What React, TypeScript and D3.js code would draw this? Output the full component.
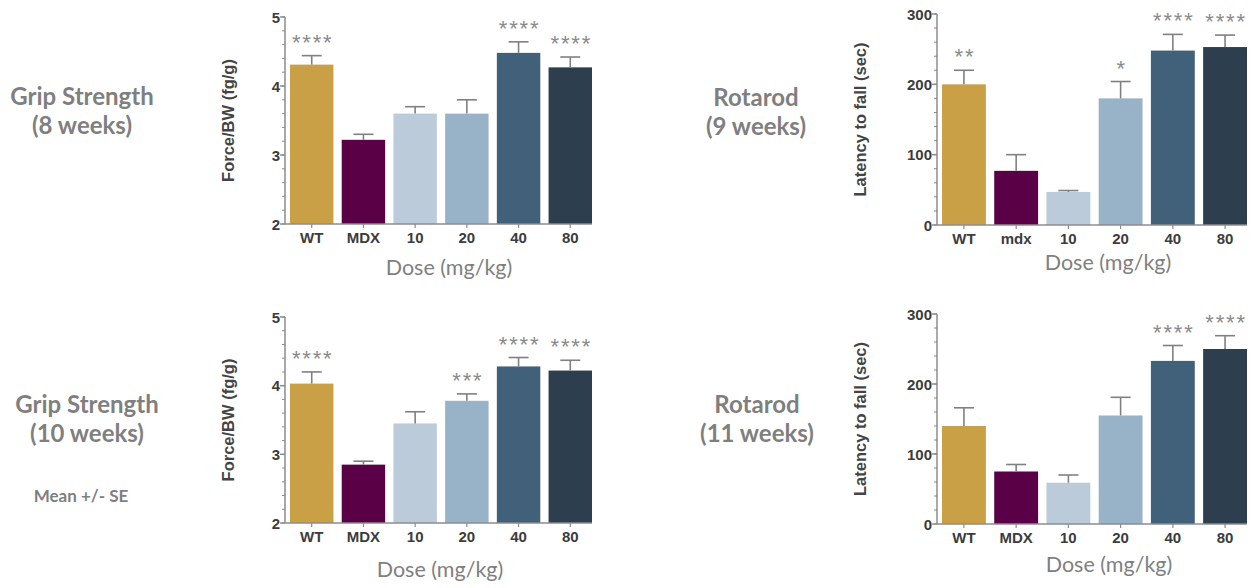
import React from 'react';
import * as d3 from 'd3';

// canvas size
const svgWidth = 1252;
const svgHeight = 588;

// bar colours, one per group
const barColors = ['#c9a046', '#5a0047', '#bccbd9', '#98b2c8', '#41607a', '#2d3e4f'];

const doseLabels = ['WT', 'MDX', '10', '20', '40', '80'];
const doseLabelsLower = ['WT', 'mdx', '10', '20', '40', '80'];

// Grip strength, 8 weeks
const grip8Mean = [4.31, 3.22, 3.6, 3.6, 4.48, 4.27];
const grip8Err = [0.13, 0.08, 0.1, 0.2, 0.16, 0.15];
const grip8Stars = ['****', '', '', '', '****', '****'];

// Rotarod, 9 weeks
const rota9Mean = [200, 77, 47, 180, 248, 253];
const rota9Err = [20, 23, 2, 24, 23, 17];
const rota9Stars = ['**', '', '', '*', '****', '****'];

// Grip strength, 10 weeks
const grip10Mean = [4.03, 2.85, 3.45, 3.78, 4.28, 4.22];
const grip10Err = [0.17, 0.05, 0.17, 0.1, 0.13, 0.15];
const grip10Stars = ['****', '', '', '***', '****', '****'];

// Rotarod, 11 weeks
const rota11Mean = [140, 75, 59, 155, 233, 250];
const rota11Err = [26, 10, 11, 26, 22, 19];
const rota11Stars = ['', '', '', '', '****', '****'];

const gripTicks = [2, 3, 4, 5];
const rotaTicks = [0, 100, 200, 300];

const axisColor = '#8c8c8c';
const tickTextColor = '#3c3c3c';
const sideTextColor = '#7f7f7f';

type PanelProps = {
  left: number;      // x of y-axis
  right: number;     // right end of x-axis
  top: number;       // y of top tick
  bottom: number;    // y of x-axis
  domain: [number, number];
  ticks: number[];
  minorStep: number;
  labels: string[];
  means: number[];
  errs: number[];
  stars: string[];
  yLabel: string;
  yLabelX: number;
  doseX: number;
  doseY: number;
};

function Panel(p: PanelProps) {
  const yScale = d3.scaleLinear().domain(p.domain).range([p.bottom, p.top]);
  const xScale = d3.scaleBand<string>()
    .domain(p.labels)
    .range([p.left + 5, p.right])
    .paddingInner(0.16)
    .paddingOuter(0);
  const bw = xScale.bandwidth();
  const minor = d3.range(p.domain[0], p.domain[1] + 1e-9, p.minorStep);

  return (
    <g>
      {/* bars */}
      {p.labels.map((lab, i) => (
        <rect key={'b' + i}
          x={xScale(lab)} y={yScale(p.means[i])}
          width={bw} height={p.bottom - yScale(p.means[i])}
          fill={barColors[i]} />
      ))}
      {/* error bars */}
      {p.labels.map((lab, i) => {
        const cx = (xScale(lab) as number) + bw / 2;
        const yTop = yScale(p.means[i] + p.errs[i]);
        return (
          <g key={'e' + i} stroke="#808080" strokeWidth={1.6}>
            <line x1={cx} x2={cx} y1={yScale(p.means[i])} y2={yTop} />
            <line x1={cx - 10} x2={cx + 10} y1={yTop} y2={yTop} />
          </g>
        );
      })}
      {/* significance stars */}
      {p.labels.map((lab, i) => (
        <text key={'s' + i}
          x={(xScale(lab) as number) + bw / 2 + 1}
          y={yScale(p.means[i] + p.errs[i]) - 6}
          textAnchor="middle" fontFamily="Liberation Sans, Arial" fontSize={22}
          letterSpacing={1.8} fill="#8a8a8a">{p.stars[i]}</text>
      ))}
      {/* y axis */}
      <line x1={p.left} x2={p.left} y1={p.top} y2={p.bottom} stroke={axisColor} strokeWidth={1.5} />
      {minor.map((v, i) => (
        <line key={'m' + i} x1={p.left - 3} x2={p.left} y1={yScale(v)} y2={yScale(v)}
          stroke={axisColor} strokeWidth={1} />
      ))}
      {p.ticks.map(t => (
        <g key={'t' + t}>
          <line x1={p.left - 5} x2={p.left} y1={yScale(t)} y2={yScale(t)} stroke={axisColor} strokeWidth={1.5} />
          <text x={p.left - 5} y={yScale(t) + 5.5} textAnchor="end"
            fontFamily="Liberation Sans, Arial" fontWeight="bold" fontSize={15}
            fill={tickTextColor}>{t}</text>
        </g>
      ))}
      {/* x axis */}
      <line x1={p.left} x2={p.right} y1={p.bottom} y2={p.bottom} stroke={axisColor} strokeWidth={1.5} />
      {p.labels.map((lab, i) => {
        const cx = (xScale(lab) as number) + bw / 2;
        return (
          <g key={'x' + i}>
            <line x1={cx} x2={cx} y1={p.bottom} y2={p.bottom + 4} stroke={axisColor} strokeWidth={1.2} />
            <text x={cx} y={p.bottom + 19} textAnchor="middle"
              fontFamily="Liberation Sans, Arial" fontWeight="bold" fontSize={15}
              fill={tickTextColor}>{lab}</text>
          </g>
        );
      })}
      <text transform={`translate(${p.yLabelX},${(p.top + p.bottom) / 2}) rotate(-90)`}
        textAnchor="middle" dominantBaseline="central"
        fontFamily="Liberation Sans, Arial" fontWeight="bold" fontSize={16.5}
        fill="#444">{p.yLabel}</text>
      <text x={p.doseX} y={p.doseY} textAnchor="middle" fontFamily="Lato" fontSize={21.5}
        fill={sideTextColor}>Dose (mg/kg)</text>
    </g>
  );
}

function SideLabel({ x, y, lines }: { x: number; y: number; lines: string[] }) {
  return (
    <text x={x} y={y} textAnchor="middle" fontFamily="Lato" fontWeight="bold" fontSize={24}
      fill={sideTextColor}>
      {lines.map((l, i) => (
        <tspan key={i} x={x} dy={i === 0 ? 0 : 29}>{l}</tspan>
      ))}
    </text>
  );
}

export default function App() {
  return (
    <svg width={svgWidth} height={svgHeight}
      style={{ position: 'absolute', left: 0, top: 0, background: '#fff' }}>
      <SideLabel x={82} y={105} lines={['Grip Strength', '(8 weeks)']} />
      <SideLabel x={756} y={106} lines={['Rotarod', '(9 weeks)']} />
      <SideLabel x={87} y={413} lines={['Grip Strength', '(10 weeks)']} />
      <SideLabel x={757} y={413} lines={['Rotarod', '(11 weeks)']} />
      <text x={81} y={502} textAnchor="middle" fontFamily="Lato" fontWeight="bold" fontSize={17}
        fill={sideTextColor}>Mean +/- SE</text>

      <Panel left={285} right={592} top={17} bottom={224} domain={[2, 5]} ticks={gripTicks}
        minorStep={0.2} labels={doseLabels} means={grip8Mean} errs={grip8Err} stars={grip8Stars}
        yLabel="Force/BW (fg/g)" yLabelX={228} doseX={449} doseY={275} />
      <Panel left={937} right={1247} top={14} bottom={225} domain={[0, 300]} ticks={rotaTicks}
        minorStep={20} labels={doseLabelsLower} means={rota9Mean} errs={rota9Err} stars={rota9Stars}
        yLabel="Latency to fall (sec)" yLabelX={860} doseX={1108} doseY={270} />
      <Panel left={285} right={592} top={317} bottom={523} domain={[2, 5]} ticks={gripTicks}
        minorStep={0.2} labels={doseLabels} means={grip10Mean} errs={grip10Err} stars={grip10Stars}
        yLabel="Force/BW (fg/g)" yLabelX={228} doseX={440} doseY={577} />
      <Panel left={937} right={1247} top={314} bottom={524} domain={[0, 300]} ticks={rotaTicks}
        minorStep={20} labels={doseLabels} means={rota11Mean} errs={rota11Err} stars={rota11Stars}
        yLabel="Latency to fall (sec)" yLabelX={860} doseX={1109} doseY={572} />
    </svg>
  );
}
